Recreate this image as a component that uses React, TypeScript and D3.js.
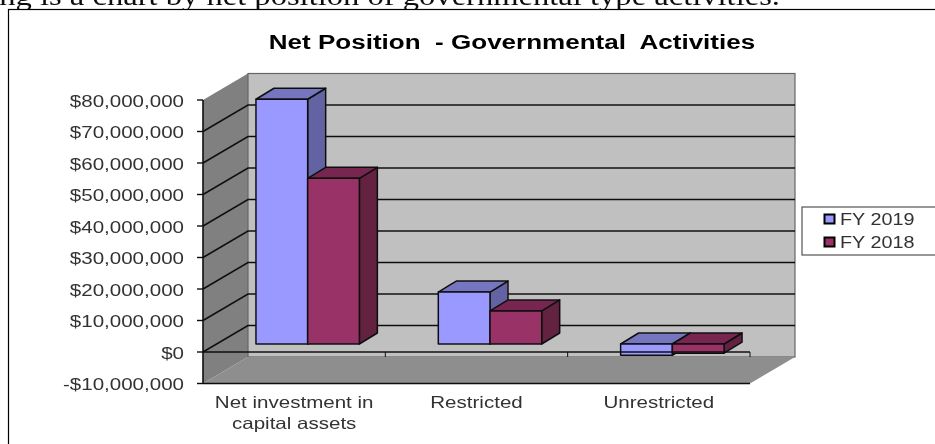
import React from "react";
import * as d3 from "d3";

const categories = [["Net investment in", "capital assets"], ["Restricted"], ["Unrestricted"]];
const fy2019 = [77700000, 16500000, -3600000];
const fy2018 = [52600000, 10500000, -2900000];
const yTicks = [80000000, 70000000, 60000000, 50000000, 40000000, 30000000, 20000000, 10000000, 0, -10000000];
const seriesNames = ["FY 2019", "FY 2018"];
const seriesColors = [
  { front: "#9999ff", top: "#7474c0", side: "#6464a4" },
  { front: "#993366", top: "#762650", side: "#622040" },
];
const introText = "ing is a chart by net position of governmental type activities.";
const titleText = "Net Position  - Governmental  Activities";

const W = 935, H = 444;
const y = d3.scaleLinear().domain([-10000000, 80000000]).range([383.5, 100]);
const xBand = d3.scaleBand<number>().domain([0, 1, 2]).range([203, 750]);
const DX = 45, DY = -26.5;
const barDX = 13.5, barDY = -8, sideDX = 18, sideDY = -11;
const barW = 51.7;
const money = (v: number) => (v < 0 ? "-" : "") + "$" + d3.format(",")(Math.abs(v));
const pts = (a: number[][]) => a.map((p) => p.join(",")).join(" ");

const sans = "'Liberation Sans', Arial, sans-serif";

function T({ x, y: yy, sx = 1.245, size = 16.5, anchor = "middle", weight, fill = "#333", children }: any) {
  return (
    <text transform={`translate(${x},${yy}) scale(${sx},1)`} textAnchor={anchor} fontFamily={sans} fontSize={size} fontWeight={weight} fill={fill} xmlSpace="preserve">
      {children}
    </text>
  );
}

function Bar({ cat, idx, v }: { cat: number; idx: number; v: number }) {
  const c = seriesColors[idx];
  const center = xBand(cat)! + xBand.bandwidth() / 2 + barDX;
  const x0 = center + (idx - 1) * barW;
  const x1 = x0 + barW;
  const yTop = y(Math.max(v, 0)) + barDY;
  const yBot = y(Math.min(v, 0)) + barDY;
  return (
    <g stroke="#111" strokeWidth={1.5} strokeLinejoin="round">
      <polygon points={pts([[x1, yTop], [x1 + sideDX, yTop + sideDY], [x1 + sideDX, yBot + sideDY], [x1, yBot]])} fill={c.side} />
      <polygon points={pts([[x0, yTop], [x0 + sideDX, yTop + sideDY], [x1 + sideDX, yTop + sideDY], [x1, yTop]])} fill={c.top} />
      <rect x={x0} y={yTop} width={barW} height={yBot - yTop} fill={c.front} />
    </g>
  );
}

export default function App() {
  const bottom = y(-10000000);
  const top = y(80000000);
  const zero = y(0);
  const xL = xBand.range()[0], xR = xBand.range()[1];
  return (
    <svg width={W} height={H} viewBox={`0 0 ${W} ${H}`} style={{ position: "absolute", left: 0, top: 0, display: "block", background: "#fff" }}>
      <defs>
        <filter id="soft" x="0" y="0" width={W} height={H} filterUnits="userSpaceOnUse">
          <feGaussianBlur stdDeviation="0.5" />
        </filter>
      </defs>
      <g filter="url(#soft)">
        <text transform="translate(780,5) scale(1.23,1)" textAnchor="end" fontFamily="'Liberation Serif', serif" fontSize={26.5} fill="#111">{introText}</text>
      </g>
      <rect x={8.5} y={9.5} width={W + 10} height={H + 10} fill="#fff" stroke="#000" strokeWidth={1.2} />
      <g filter="url(#soft)">
        <T x={512} y={48.5} size={21} sx={1.24} weight="bold" fill="#000">{titleText}</T>

        {/* walls and floor */}
        <polygon points={pts([[xL, top], [xL + DX, top + DY], [xL + DX, bottom + DY], [xL, bottom]])} fill="#808080" />
        <rect x={xL + DX} y={top + DY} width={xR - xL} height={bottom - top} fill="#c0c0c0" stroke="#666" strokeWidth={1.2} />
        <polygon points={pts([[xL, bottom], [xL + DX, bottom + DY], [xR + DX, bottom + DY], [xR, bottom]])} fill="#8e8e8e" />

        {/* gridlines */}
        {yTicks.filter((t) => t !== 80000000 && t !== -10000000).map((t) => (
          <polyline key={t} points={pts([[xL, y(t)], [xL + DX, y(t) + DY], [xR + DX, y(t) + DY]])} fill="none" stroke="#111" strokeWidth={1.6} />
        ))}

        {/* bars */}
        {categories.map((_, i) => (
          <g key={i}>
            <Bar cat={i} idx={0} v={fy2019[i]} />
            <Bar cat={i} idx={1} v={fy2018[i]} />
          </g>
        ))}

        {/* zero plane line and category ticks */}
        <line x1={xL} x2={xR} y1={zero} y2={zero} stroke="#111" strokeWidth={1.4} />
        {[1, 2, 3].map((i) => (
          <line key={i} x1={xL + i * xBand.bandwidth()} x2={xL + i * xBand.bandwidth()} y1={zero} y2={zero + 5} stroke="#111" strokeWidth={1} />
        ))}

        {/* axis */}
        <line x1={xL} x2={xL} y1={top} y2={bottom} stroke="#111" strokeWidth={1.6} />
        <line x1={xL} x2={xR} y1={bottom} y2={bottom} stroke="#111" strokeWidth={1.6} />
        {yTicks.map((t) => (
          <g key={t}>
            <line x1={xL - 6} x2={xL} y1={y(t)} y2={y(t)} stroke="#111" strokeWidth={1.4} />
            <T x={184} y={y(t) + 6.5} anchor="end">{money(t)}</T>
          </g>
        ))}

        {categories.map((lines, i) =>
          lines.map((ln, j) => (
            <T key={ln} x={xBand(i)! + xBand.bandwidth() / 2} y={408 + j * 20.5}>{ln}</T>
          ))
        )}

        {/* legend */}
        <rect x={802} y={207} width={W} height={48} fill="#fff" stroke="#333" strokeWidth={1} />
        {seriesNames.map((s, i) => (
          <g key={s}>
            <rect x={824.5} y={214.5 + i * 23} width={10} height={9} fill={seriesColors[i].front} stroke="#000" strokeWidth={2} />
            <T x={840} y={225 + i * 23} anchor="start" sx={1.2}>{s}</T>
          </g>
        ))}
      </g>
    </svg>
  );
}
